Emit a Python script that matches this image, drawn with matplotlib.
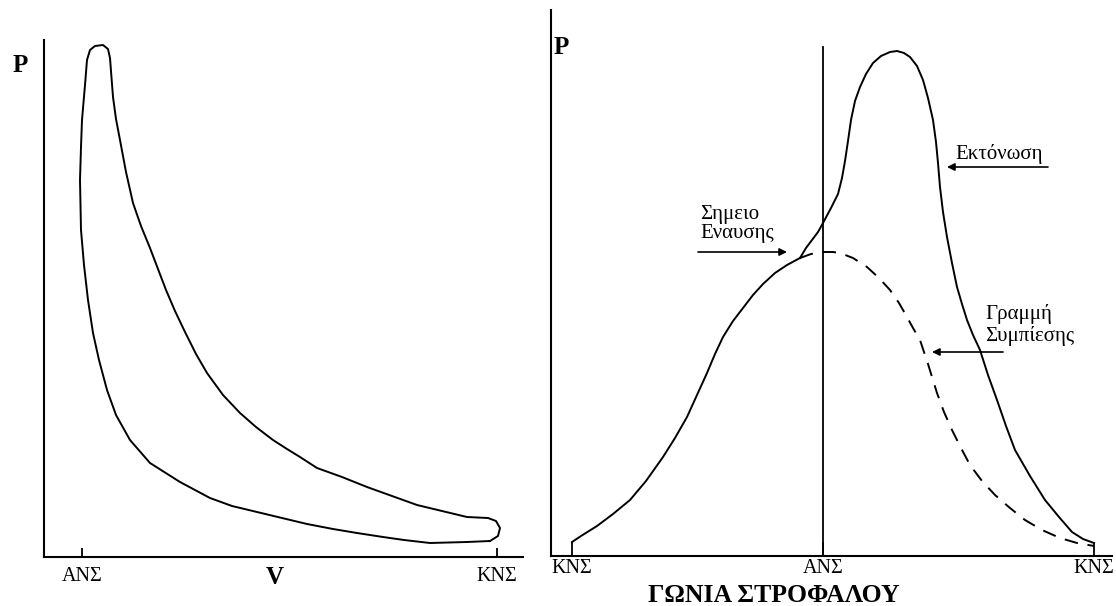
import matplotlib
matplotlib.use("Agg")
import matplotlib.pyplot as plt

plt.rcParams['font.family'] = ['Liberation Serif', 'DejaVu Serif']

# ---- left panel: P-V loop ----
loop_v = [446, 423, 386, 360, 339, 313, 289, 263, 238, 213, 188, 166, 136, 106, 86, 72,
          63, 55, 49, 44, 40, 37, 36, 37, 38, 41, 43, 46, 51, 59, 64, 66, 69, 72, 76,
          82, 89, 97, 106, 114, 122, 131, 141, 152, 163, 179, 196, 212, 229, 243, 256,
          273, 298, 323, 348, 373, 398, 423, 444, 452, 456, 454, 446]
loop_p = [16, 15, 14, 17, 20, 24, 28, 33, 39, 45, 51, 59, 75, 94, 117, 142,
          167, 197, 224, 257, 292, 327, 377, 410, 437, 472, 497, 507, 511, 512, 508, 499, 460, 438, 417,
          385, 354, 331, 309, 288, 267, 246, 225, 203, 184, 162, 144, 130, 117, 108, 100,
          89, 80, 70, 61, 52, 46, 40, 39, 36, 29, 21, 16]
v_ticks = [38, 453]
v_labels = ['ΑΝΣ', 'ΚΝΣ']

# ---- right panel: pressure vs crank angle ----
comp_a = [21, 30, 46, 62, 79, 95, 112, 124, 136, 146, 156, 164, 172, 182, 192, 202,
          212, 224, 236, 249]
comp_p = [14, 20, 30, 42, 56, 75, 99, 118, 139, 161, 183, 202, 219, 235, 248, 261,
          272, 283, 291, 298]
motor_a = [249, 260, 272, 282, 289, 302, 316, 328, 339, 348, 356, 362, 369, 377, 386,
           393, 401, 410, 419, 431, 444, 459, 474, 491, 509, 526, 543]
motor_p = [298, 302, 304, 304, 303, 298, 289, 278, 266, 253, 239, 228, 216, 192, 163,
           144, 126, 108, 91, 75, 61, 48, 36, 26, 18, 13, 10]
fire_a = [249, 255, 261, 267, 272, 280, 287, 291, 294, 297, 300, 304, 309, 315, 322,
          330, 339, 346, 353, 359, 366, 372, 377, 382, 385, 387, 389, 392, 396, 401,
          406, 411, 416, 422, 429, 437, 446, 455, 464, 479, 494, 508, 521, 532, 543]
fire_p = [298, 308, 316, 324, 333, 348, 362, 378, 395, 415, 436, 455, 469, 482, 493,
          500, 504, 505, 503, 499, 490, 476, 458, 436, 414, 393, 369, 344, 319, 293,
          269, 252, 236, 221, 206, 181, 156, 130, 106, 80, 56, 39, 24, 17, 13]
a_ticks = [21, 272, 543]
a_labels = ['ΚΝΣ', 'ΑΝΣ', 'ΚΝΣ']
tdc_angle = 272
tdc_top = 509

W, H = 1116, 606
fig = plt.figure(figsize=(W / 100, H / 100), dpi=100)

def frac(x0, y0, x1, y1):
    return [x0 / W, 1 - y1 / H, (x1 - x0) / W, (y1 - y0) / H]

ax1 = fig.add_axes(frac(44, 40, 523, 557))
ax1.plot(loop_v, loop_p, color='black', lw=1.4, solid_joinstyle='round')
ax1.set_xlim(0, 479)
ax1.set_ylim(0, 517)

ax2 = fig.add_axes(frac(551, 10, 1112, 556))
ax2.plot(comp_a, comp_p, color='black', lw=1.4, solid_joinstyle='round')
ax2.plot(motor_a, motor_p, color='black', lw=1.4, ls=(0, (7, 5)))
ax2.plot(fire_a, fire_p, color='black', lw=1.4, solid_joinstyle='round')
ax2.plot([tdc_angle, tdc_angle], [0, tdc_top], color='black', lw=1.3)
ax2.set_xlim(0, 561)
ax2.set_ylim(0, 546)

for ax in (ax1, ax2):
    for s in ('top', 'right'):
        ax.spines[s].set_visible(False)
    for s in ('left', 'bottom'):
        ax.spines[s].set_linewidth(1.5)
    ax.set_yticks([])

ax1.set_xticks(v_ticks)
ax1.set_xticklabels(v_labels, fontsize=14.5)
ax1.tick_params(axis='x', direction='in', length=6.5, width=1.3, pad=7)

ax2.set_xticks(a_ticks)
ax2.set_xticklabels(a_labels, fontsize=14.5)
ax2.tick_params(axis='x', direction='in', length=10, width=1.3, pad=2)

# axis letters and title
fig.text(20 / W, 1 - 65 / H, 'P', fontsize=18, fontweight='bold', ha='center', va='center')
fig.text(275 / W, 1 - 578 / H, 'V', fontsize=18, fontweight='bold', ha='center', va='center')
fig.text(561 / W, 1 - 48 / H, 'P', fontsize=18, fontweight='bold', ha='center', va='center')
fig.text(774 / W, 1 - 602 / H, 'ΓΩΝΙΑ ΣΤΡΟΦΑΛΟΥ', fontsize=18.5, fontweight='bold',
         ha='center', va='baseline')

arrow = dict(arrowstyle='-|>', color='black', lw=1.2, mutation_scale=11, shrinkA=0, shrinkB=0)

ax2.text(149, 332, 'Σημειο\nΕναυσης', fontsize=15, ha='left', va='center', linespacing=1.05)
ax2.annotate('', xy=(236, 304), xytext=(147, 304), arrowprops=arrow)

ax2.text(404, 402, 'Εκτόνωση', fontsize=15, ha='left', va='center')
ax2.annotate('', xy=(396, 389), xytext=(497, 389), arrowprops=arrow)

ax2.text(434, 231, 'Γραμμή\nΣυμπίεσης', fontsize=15, ha='left', va='center', linespacing=1.1)
ax2.annotate('', xy=(381, 204), xytext=(452, 204), arrowprops=arrow)

fig.savefig('out.png', dpi=100)
